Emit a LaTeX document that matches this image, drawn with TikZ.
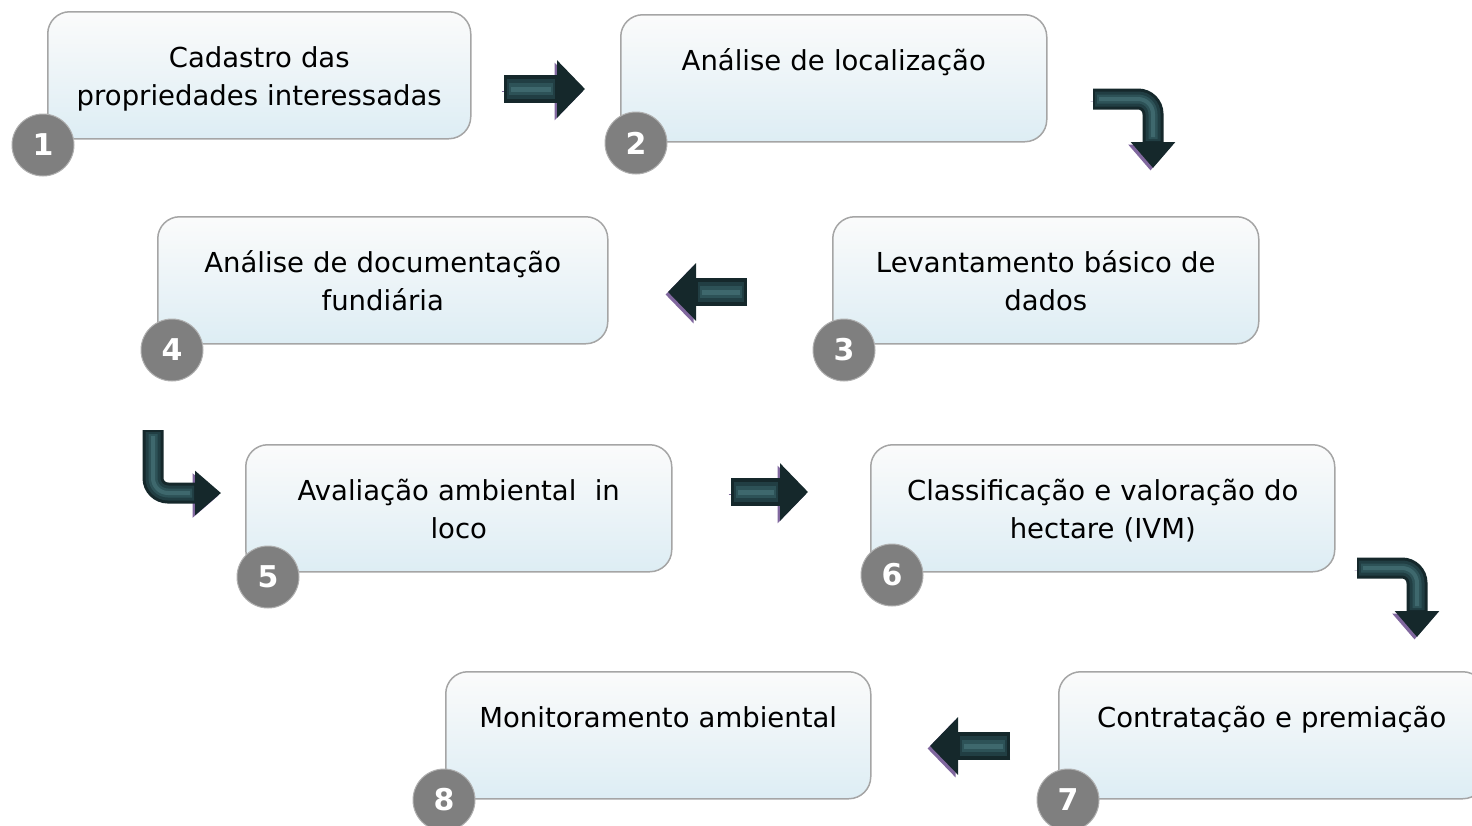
\documentclass[tikz,border=0pt]{standalone}
\usepackage{fontspec}
\setmainfont{DejaVu Sans}
\usetikzlibrary{arrows.meta}

\definecolor{boxtop}{HTML}{FBFBFB}
\definecolor{boxbot}{HTML}{DDEDF4}
\definecolor{boxline}{HTML}{A5A5A5}
\definecolor{dotfill}{HTML}{7F7F7F}
\definecolor{dotline}{HTML}{B0B0B0}
\definecolor{arrowbody}{HTML}{15282B}
\definecolor{arrowmid}{HTML}{213E43}
\definecolor{arrowlight}{HTML}{2D5257}
\definecolor{arrowhigh}{HTML}{3E686D}
\definecolor{arrowshade}{HTML}{80679E}

\begin{document}
\begin{tikzpicture}[x=1pt,y=-1pt,
  procbox/.style={draw=boxline, line width=1.5pt, rounded corners=22pt,
    top color=boxtop, bottom color=boxbot, anchor=north west, inner sep=0pt,
    align=center, text height=56pt, text depth=71pt,
    font=\fontsize{27.5}{38}\selectfont},
  numdot/.style={circle, fill=dotfill, draw=dotline, line width=1pt,
    minimum size=62pt, inner sep=0pt, text=white,
    font=\fontsize{30}{30}\selectfont\bfseries},
  flowarrow/.style={draw=arrowbody, line width=28pt,
    -{Triangle[width=56pt,length=28pt]},
    preaction={draw=arrowshade, transform canvas={shift={(-2.5pt,-2.5pt)}}},
    postaction={draw=arrowmid, line width=20pt, arrows=-, shorten >=30pt, shorten <=3pt},
    postaction={draw=arrowlight, line width=12pt, arrows=-, shorten >=32pt, shorten <=5pt},
    postaction={draw=arrowhigh, line width=5pt, arrows=-, shorten >=34pt, shorten <=7pt}},
  bentarrow/.style={draw=arrowbody, line width=21pt, rounded corners=15pt,
    -{Triangle[width=43pt,length=26pt]},
    preaction={draw=arrowshade, transform canvas={shift={(-2.5pt,-2.5pt)}}},
    postaction={draw=arrowmid, line width=15pt, arrows=-, shorten >=27pt, shorten <=2pt},
    postaction={draw=arrowlight, line width=9pt, arrows=-, shorten >=29pt, shorten <=4pt},
    postaction={draw=arrowhigh, line width=4pt, arrows=-, shorten >=31pt, shorten <=6pt}}]

\useasboundingbox (0,0) rectangle (1472,825);
\clip (0,0) rectangle (1472,825);

% Arrow end points
\coordinate (a12s) at (504,89);
\coordinate (a12e) at (585,89);
\coordinate (a23s) at (1093,99);
\coordinate (a23e) at (1153,168);
\coordinate (a34s) at (747,292);
\coordinate (a34e) at (668,292);
\coordinate (a45s) at (153,430);
\coordinate (a45e) at (221,493);
\coordinate (a56s) at (731,492);
\coordinate (a56e) at (808,492);
\coordinate (a67s) at (1357,568);
\coordinate (a67e) at (1417,637);
\coordinate (a78s) at (1010,746);
\coordinate (a78e) at (930,746);

% Arrows
\draw[flowarrow] (a12s) -- (a12e);
\draw[bentarrow] (a23s) -| (a23e);
\draw[flowarrow] (a34s) -- (a34e);
\draw[bentarrow] (a45s) |- (a45e);
\draw[flowarrow] (a56s) -- (a56e);
\draw[bentarrow] (a67s) -| (a67e);
\draw[flowarrow] (a78s) -- (a78e);

% Steps
\node[procbox, text width=423pt] (b1) at (47,11) {Cadastro das\\propriedades interessadas};
\node[procbox, text width=426pt] (b2) at (620,14) {Análise de localização};
\node[procbox, text width=426pt] (b3) at (832,216) {Levantamento básico de\\dados};
\node[procbox, text width=450pt] (b4) at (157,216) {Análise de documentação\\fundiária};
\node[procbox, text width=426pt] (b5) at (245,444) {Avaliação ambiental\ \ in\\loco};
\node[procbox, text width=464pt] (b6) at (870,444) {Classificação e valoração do\\hectare (IVM)};
\node[procbox, text width=426pt] (b7) at (1058,671) {Contratação e premiação};
\node[procbox, text width=425pt] (b8) at (445,671) {Monitoramento ambiental};

% Numbers
\node[numdot] (n1) at (43,145) {1};
\node[numdot] (n2) at (636,143) {2};
\node[numdot] (n3) at (844,350) {3};
\node[numdot] (n4) at (172,350) {4};
\node[numdot] (n5) at (268,577) {5};
\node[numdot] (n6) at (892,575) {6};
\node[numdot] (n7) at (1068,800) {7};
\node[numdot] (n8) at (444,800) {8};
\end{tikzpicture}
\end{document}
